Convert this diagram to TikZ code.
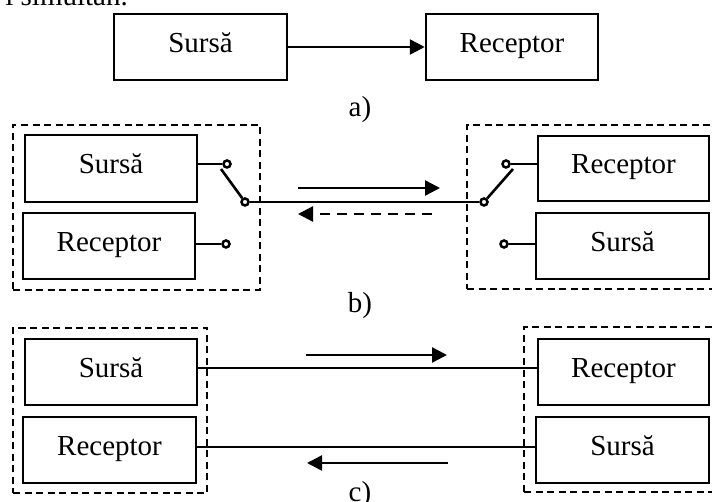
\documentclass[tikz,border=0pt]{standalone}
\usepackage{fontspec}
\setmainfont{Liberation Serif}
\usetikzlibrary{arrows.meta}
\newcommand{\fsz}{\fontsize{29}{34}\selectfont}
\begin{document}
\begin{tikzpicture}[x=1pt,y=-1pt,
  box/.style={draw, line width=2.5pt, inner sep=0pt, font=\fsz, minimum height=66pt, text height=19pt, text depth=8pt},
  frame/.style={draw, line width=1.6pt, dash pattern=on 7pt off 4.5pt, inner sep=0pt},
  wire/.style={line width=2pt},
  lever/.style={line width=2.6pt},
  arr/.style={line width=2.5pt, -{Triangle[length=15pt,width=15pt]}},
  darr/.style={line width=2.3pt, dash pattern=on 10pt off 7pt, -{Triangle[length=15pt,width=15pt]}},
  term/.style={circle, draw, fill=white, line width=2.5pt, minimum size=7pt, inner sep=0pt},
  lbl/.style={font=\fsz, inner sep=0pt, anchor=base}]
\useasboundingbox (0,0) rectangle (712,502);

% cut-off text line at the top
\node[font=\fsz, inner sep=0pt, anchor=base east] (toptext) at (128,6) {i simultan.};

% ---------- a) ----------
\node[box, minimum width=173pt] (sa) at (200.5,47) {Sursă};
\node[box, minimum width=172pt] (ra) at (512,47) {Receptor};
\draw[arr] (sa.east) -- (ra.west);
\node[lbl] (la) at (360,117) {a)};

% ---------- b) ----------
\node[frame, minimum width=247pt, minimum height=165pt] (fbL) at (136.5,207.5) {};
\node[frame, minimum width=258pt, minimum height=164pt] (fbR) at (596,207) {};
\node[box, minimum width=172pt, minimum height=67pt] (sbL) at (111,168.5) {Sursă};
\node[box, minimum width=172pt] (rbL) at (109,246) {Receptor};
\node[box, minimum width=171pt, minimum height=65pt] (rbR) at (623.5,168.5) {Receptor};
\node[box, minimum width=173pt] (sbR) at (622.5,246) {Sursă};

\node[term] (c1) at (227,164) {};
\node[term] (p1) at (245,202) {};
\node[term] (r1) at (226,244) {};
\node[term] (c2) at (506,164) {};
\node[term] (p2) at (484,202) {};
\node[term] (s2) at (504,244) {};
\coordinate (l1) at (221,169);
\coordinate (l2) at (513,169);

\draw[wire] (c1) -- (c1 -| sbL.east);
\draw[wire] (r1) -- (r1 -| rbL.east);
\draw[wire] (c2) -- (c2 -| rbR.west);
\draw[wire] (s2) -- (s2 -| sbR.west);
\draw[wire] (p1) -- (p2);
\draw[lever] (p1) -- (l1);
\draw[lever] (p2) -- (l2);

\coordinate (b1s) at (298,188);
\coordinate (b1e) at (440,188);
\coordinate (b2s) at (432,214);
\coordinate (b2e) at (298,214);
\draw[arr] (b1s) -- (b1e);
\draw[darr] (b2s) -- (b2e);
\node[lbl] (lb) at (360,313) {b)};

% ---------- c) ----------
\node[frame, minimum width=194pt, minimum height=165pt] (fcL) at (110,410.5) {};
\node[frame, minimum width=201pt, minimum height=165pt] (fcR) at (624.5,409.5) {};
\node[box, minimum width=172pt] (scL) at (111,372) {Sursă};
\node[box, minimum width=173pt] (rcL) at (109.5,450) {Receptor};
\node[box, minimum width=171pt] (rcR) at (623.5,372) {Receptor};
\node[box, minimum width=173pt] (scR) at (622.5,450) {Sursă};

\coordinate (k1) at ([yshift=4pt]scL.east);
\coordinate (k2) at ([yshift=3pt]rcL.east);
\draw[wire] (k1) -- (k1 -| rcR.west);
\draw[wire] (k2) -- (k2 -| scR.west);

\coordinate (cs1) at (306,355);
\coordinate (ce1) at (447,355);
\coordinate (cs2) at (448,463);
\coordinate (ce2) at (307,463);
\draw[arr] (cs1) -- (ce1);
\draw[arr] (cs2) -- (ce2);
\node[lbl] (lc) at (360,501) {c)};
\end{tikzpicture}
\end{document}
